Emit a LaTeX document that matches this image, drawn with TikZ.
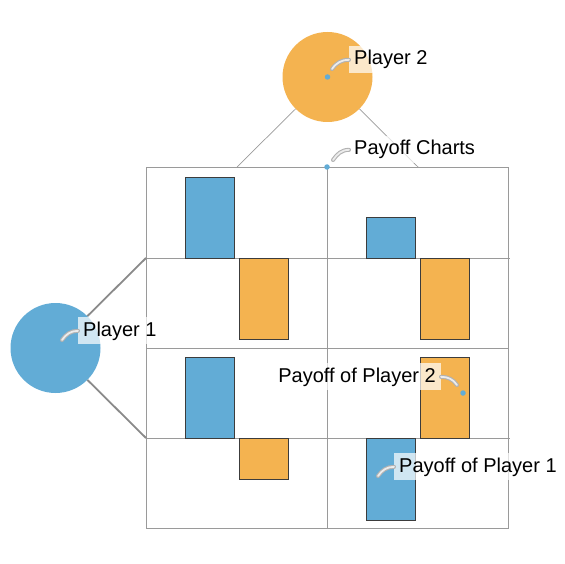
\documentclass[tikz,border=0pt]{standalone}
\usepackage{fontspec}
\setmainfont{Liberation Sans}
\definecolor{pblue}{HTML}{62ACD6}
\definecolor{porange}{HTML}{F4B350}
\definecolor{gridgray}{HTML}{9A9A9A}
\definecolor{linkgray}{HTML}{8A8A8A}
\definecolor{barline}{HTML}{3C3C3C}
\tikzset{
  player/.style={circle, inner sep=0pt, minimum size=90pt},
  bar/.style={draw=barline, line width=0.8pt, inner sep=0pt, minimum width=49pt},
  gridline/.style={draw=gridgray, line width=0.9pt},
  link/.style={draw=gridgray, line width=0.7pt},
  thicklink/.style={draw=linkgray, line width=1.8pt},
  lbl/.style={fill=white, fill opacity=0.7, text opacity=1, inner xsep=5pt, inner ysep=4.3pt,
    font=\fontsize{20}{23}\selectfont},
  dot/.style={circle, fill=pblue, inner sep=0pt, minimum size=5.5pt},
  callout/.style={draw=gray!60, double=gray!15, double distance=1.8pt, line width=1.1pt, line cap=round}
}
\begin{document}
\begin{tikzpicture}[x=1pt,y=-1pt]
\useasboundingbox (0,0) rectangle (564,564);

% grid of payoff charts
\node[draw=gridgray, line width=0.9pt, inner sep=0pt, minimum width=362pt, minimum height=361pt, anchor=north west] (grid) at (146,167) {};
\coordinate (mtop) at (327,167);
\coordinate (mbot) at (327,528);
\coordinate (r1w) at (146,258); \coordinate (r1e) at (510,258);
\coordinate (r2w) at (146,348); \coordinate (r2e) at (508,348);
\coordinate (r3w) at (146,438); \coordinate (r3e) at (510,438);
\draw[gridline] (mtop) -- (mbot);
\draw[gridline] (r1w) -- (r1e);
\draw[gridline] (r2w) -- (r2e);
\draw[gridline] (r3w) -- (r3e);

% bars
\node[bar, fill=pblue, anchor=north west, minimum height=81pt] (b1) at (185,177) {};
\node[bar, fill=porange, anchor=north west, minimum height=81pt] (o1) at (239,258) {};
\node[bar, fill=pblue, anchor=north west, minimum height=41pt] (b2) at (366,217) {};
\node[bar, fill=porange, anchor=north west, minimum height=81pt] (o2) at (420,258) {};
\node[bar, fill=pblue, anchor=north west, minimum height=81pt] (b3) at (185,357) {};
\node[bar, fill=porange, anchor=north west, minimum height=41pt] (o3) at (239,438) {};
\node[bar, fill=pblue, anchor=north west, minimum height=82pt] (b4) at (366,438) {};
\node[bar, fill=porange, anchor=north west, minimum height=81pt] (o4) at (420,357) {};

% players
\node[player, fill=porange] (p2) at (327.5,77) {};
\node[player, fill=pblue] (p1) at (55.5,348) {};
\coordinate (g2l) at (237,167);
\coordinate (g2r) at (418,167);
\draw[link] (p2.225) -- (g2l);
\draw[link] (p2.-45) -- (g2r);
\draw[thicklink] (p1.45) -- (r1w);
\draw[thicklink] (p1.-45) -- (r3w);

% dots
\node[dot] (d2) at (327.5,77) {};
\node[dot] (dc) at (327,167) {};
\node[dot] (d1) at (55.5,348) {};
\node[dot] (dp2) at (463,393) {};
\node[dot] (dp1) at (372,484) {};

% labels
\node[lbl, anchor=base west] (l2) at (349,65) {Player 2};
\node[lbl, anchor=base west] (lc) at (349,155) {Payoff Charts};
\node[lbl, anchor=base west] (l1) at (78,336) {Player 1};
\node[lbl, anchor=base east] (lp2) at (441,382) {Payoff of Player 2};
\node[lbl, anchor=base west] (lp1) at (394,472) {Payoff of Player 1};

% callouts
\coordinate (s2) at (332,69);
\coordinate (sc) at (333,160);
\coordinate (s1) at (62,340);
\coordinate (sp2) at (457,385);
\coordinate (sp1) at (378,476);
\draw[callout] (s2) to[out=55,in=180] (l2.west);
\draw[callout] (sc) to[out=55,in=180] (lc.west);
\draw[callout] (s1) to[out=55,in=180] (l1.west);
\draw[callout] (sp2) to[out=125,in=0] (lp2.east);
\draw[callout] (sp1) to[out=55,in=180] (lp1.west);
\end{tikzpicture}
\end{document}
